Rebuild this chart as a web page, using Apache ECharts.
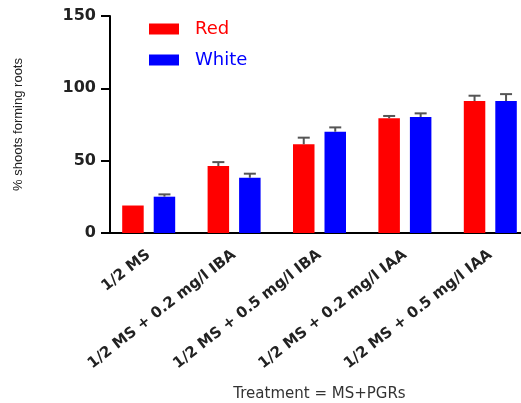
<!DOCTYPE html>
<html>
<head>
<meta charset="utf-8">
<script src="https://cdn.jsdelivr.net/npm/echarts@6/dist/echarts.min.js"></script>
<style>html,body{margin:0;padding:0;background:#fff}#c{width:521px;height:403px}</style>
</head>
<body>
<div id="c"></div>
<script>
const categories = ['1/2 MS', '1/2 MS + 0.2 mg/l IBA', '1/2 MS + 0.5 mg/l IBA', '1/2 MS + 0.2 mg/l IAA', '1/2 MS + 0.5 mg/l IAA'];
const redValues = [19, 46.3, 61.3, 79.3, 91.2];
const redErrors = [0, 2.7, 4.6, 1.6, 3.7];
const whiteValues = [25.1, 38.2, 70, 80.2, 91.2];
const whiteErrors = [1.6, 2.8, 3, 2.5, 4.8];
const yTicks = [0, 50, 100, 150];

const BAR_W = 21.5, BAR_GAP = 10;
const OFF = (BAR_W + BAR_GAP) / 2;

function errSeries(name, vals, errs, sign) {
  return {
    type: 'custom',
    name: name + ' err',
    z: 5,
    data: vals.map((v, i) => [i, v, errs[i]]),
    renderItem: function (params, api) {
      const e = api.value(2);
      if (!e) return null;
      const b = api.coord([api.value(0), api.value(1)]);
      const t = api.coord([api.value(0), api.value(1) + e]);
      const x = b[0] + sign * OFF;
      const st = { stroke: '#555', lineWidth: 2 };
      return {
        type: 'group',
        children: [
          { type: 'line', shape: { x1: x, y1: b[1], x2: x, y2: t[1] }, style: st },
          { type: 'line', shape: { x1: x - 6, y1: t[1], x2: x + 6, y2: t[1] }, style: st }
        ]
      };
    },
    tooltip: { show: false }
  };
}

const chart = echarts.init(document.getElementById('c'));
chart.setOption({
  animation: false,
  grid: { left: 106, top: 16, width: 427, height: 217, outerBoundsMode: 'none', containLabel: false },
  legend: {
    orient: 'vertical',
    left: 149,
    top: 20,
    padding: 0,
    itemWidth: 30,
    itemHeight: 11,
    itemGap: 13,
    icon: 'rect',
    data: [
      { name: 'Red', textStyle: { color: '#ff0000' } },
      { name: 'White', textStyle: { color: '#0000ff' } }
    ],
    textStyle: { fontFamily: 'DejaVu Sans', fontSize: 18, padding: [0, 0, 0, 11] }
  },
  xAxis: {
    type: 'category',
    data: categories,
    name: 'Treatment = MS+PGRs',
    nameLocation: 'middle',
    nameGap: 154,
    nameTextStyle: { fontFamily: 'DejaVu Sans', fontSize: 15, color: '#333' },
    axisLine: { lineStyle: { color: '#000', width: 2 } },
    axisTick: { alignWithLabel: true, length: 9, lineStyle: { color: '#000', width: 2 } },
    axisLabel: { rotate: 38, interval: 0, margin: 20, fontFamily: 'DejaVu Sans', fontWeight: 'bold', fontSize: 15, color: '#222' }
  },
  yAxis: {
    type: 'value',
    min: 0, max: 150, interval: 50,
    offset: -4,
    name: '% shoots forming roots',
    nameLocation: 'middle',
    nameGap: 85,
    nameTextStyle: { fontFamily: 'Liberation Sans', fontSize: 13, color: '#222' },
    splitLine: { show: false },
    axisLine: { show: true, lineStyle: { color: '#000', width: 2 } },
    axisTick: { show: true, length: 9, lineStyle: { color: '#000', width: 2 } },
    axisLabel: {
      margin: 14, fontFamily: 'DejaVu Sans', fontWeight: 'bold', fontSize: 16, color: '#222',
      formatter: v => yTicks.includes(v) ? String(v) : ''
    }
  },
  series: [
    { type: 'bar', name: 'Red', data: redValues, barWidth: BAR_W, barGap: (BAR_GAP / BAR_W * 100) + '%', itemStyle: { color: '#ff0000' } },
    { type: 'bar', name: 'White', data: whiteValues, barWidth: BAR_W, itemStyle: { color: '#0000ff' } },
    errSeries('Red', redValues, redErrors, -1),
    errSeries('White', whiteValues, whiteErrors, 1)
  ]
});
</script>
</body>
</html>
